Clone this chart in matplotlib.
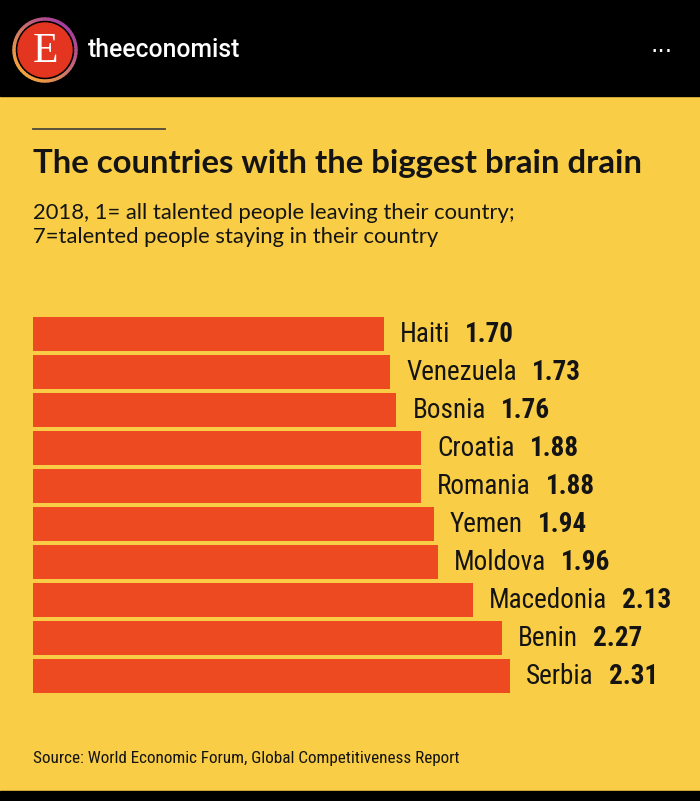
import matplotlib
matplotlib.use("Agg")
import matplotlib.pyplot as plt
import numpy as np
from matplotlib.patches import Circle, Rectangle, Wedge
from matplotlib.colors import to_rgb
from matplotlib import font_manager

countries = ["Haiti", "Venezuela", "Bosnia", "Croatia", "Romania",
             "Yemen", "Moldova", "Macedonia", "Benin", "Serbia"]
scores = [1.70, 1.73, 1.76, 1.88, 1.88, 1.94, 1.96, 2.13, 2.27, 2.31]

title = "The countries with the biggest brain drain"
subtitle = "2018, 1= all talented people leaving their country;\n7=talented people staying in their country"
source = "Source: World Economic Forum, Global Competitiveness Report"

YELLOW = "#f9cd46"
RED = "#ee4a22"
INK = "#141414"

names = {f.name for f in font_manager.fontManager.ttflist}
narrow = "Roboto"
for cand in ["Liberation Sans Narrow", "Roboto Condensed", "Open Sans Condensed", "Roboto"]:
    if cand in names:
        narrow = cand
        break

W, H = 700, 801
fig = plt.figure(figsize=(W / 100, H / 100), dpi=100)

# background / decorations in pixel coords
bg = fig.add_axes([0, 0, 1, 1])
bg.set_xlim(0, W)
bg.set_ylim(H, 0)
bg.axis("off")
bg.add_patch(Rectangle((0, 0), W, H, color=YELLOW, zorder=0))
bg.add_patch(Rectangle((0, 0), W, 96, color="black", zorder=1))
bg.add_patch(Rectangle((0, 791), W, 10, color="black", zorder=1))

# instagram header, story ring purple (top right) -> orange (bottom left)
purple, orange = np.array(to_rgb("#a63f9c")), np.array(to_rgb("#f3a23c"))
for a in range(0, 360, 6):
    f = (1 - np.cos(np.radians(a + 3 - 315))) / 2
    bg.add_patch(Wedge((45, 50), 32, a, a + 6.5, width=2,
                       color=purple * (1 - f) + orange * f, zorder=2))
bg.add_patch(Circle((45, 50), 27, color="#e3351f", zorder=3))
bg.text(45, 52, "E", color="white", fontsize=30, family="Liberation Serif",
        ha="center", va="center", zorder=4)
bg.text(88, 50, "theeconomist", color="white", fontsize=17.8, family="Roboto",
        fontweight="medium", ha="left", va="center", zorder=4)
bg.text(662, 45, "...", color="white", fontsize=17,
        ha="center", va="center", zorder=4)

# rule, title, subtitle, source
bg.plot([33, 165], [129, 129], color="#4a4a3a", lw=1.3, zorder=2)
bg.text(33, 163, title, color=INK, fontsize=23.7, family="Lato",
        fontweight="bold", ha="left", va="center", zorder=2)
bg.text(33, 225, subtitle, color=INK, fontsize=15.8, family="Lato",
        ha="left", va="center", linespacing=1.3, zorder=2)
bg.text(33, 759, source, color=INK, fontsize=12.3, family=narrow,
        ha="left", va="center", zorder=2)

# bars
ax = fig.add_axes([33 / W, (H - 695) / H, (W - 33) / W, 380 / H])
ax.set_xlim(0, (W - 33) / 206.5)
ax.set_ylim(len(countries) - 0.5, -0.5)
ax.axis("off")
ax.barh(range(len(countries)), scores, height=0.87, color=RED, zorder=2)

for i, (c, v) in enumerate(zip(countries, scores)):
    t = ax.annotate(c, (v, i), xytext=(16, 0), textcoords="offset pixels",
                    ha="left", va="center", fontsize=19.5, family=narrow, color=INK)
    ax.annotate(f"{v:.2f}", (1, 0.5), xycoords=t, xytext=(15, 0),
                textcoords="offset pixels", ha="left", va="center",
                fontsize=19.5, family=narrow, fontweight="bold", color=INK)

fig.savefig("out.png", dpi=100)
